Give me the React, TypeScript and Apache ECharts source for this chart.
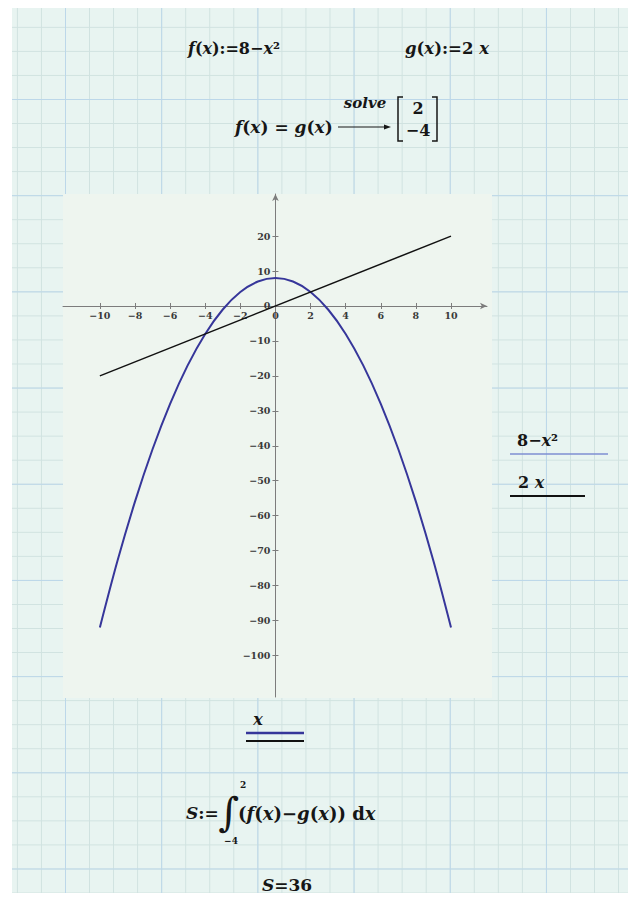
import React, { useEffect, useRef } from "react";
import * as echarts from "echarts";

// ---- data ----
const xValues = [-10, -9, -8, -7, -6, -5, -4, -3, -2, -1, 0, 1, 2, 3, 4, 5, 6, 7, 8, 9, 10];
const fValues = [-92, -73, -56, -41, -28, -17, -8, -1, 4, 7, 8, 7, 4, -1, -8, -17, -28, -41, -56, -73, -92];
const gX = [-10, 10];
const gValues = [-20, 20];
const xTicks = [-10, -8, -6, -4, -2, 0, 2, 4, 6, 8, 10];
const yTicks = [20, 10, 0, -10, -20, -30, -40, -50, -60, -70, -80, -90, -100];
const roots = ["2", "−4"];
const intLimits = ["2", "−4"];
const areaValue = "36";

const X_MIN = -12.1;
const X_MAX = 12.05;
const Y_MIN = -111.9;
const Y_MAX = 32.05;
const GRID = { left: 63, top: 194, width: 424, height: 503 };

const SERIF = "DejaVu Serif";
const INK = "#161616";
const AXIS = "#7c7c7c";
const PARA = "#36369a";

const fmt = (v: number) => (v < 0 ? "−" + Math.abs(v) : String(v));

const rich = (size: number) => ({
  i: { fontFamily: SERIF, fontSize: size, fontWeight: "bold", fontStyle: "italic", fill: INK },
  n: { fontFamily: SERIF, fontSize: size, fontWeight: "bold", fill: INK },
  s: { fontFamily: SERIF, fontSize: 9, fontWeight: "bold", fill: INK },
});

const mathText = (x: number, y: number, text: string, size = 16, align = "left") => ({
  type: "text",
  x,
  y,
  z: 10,
  style: {
    text,
    rich: rich(size),
    fontFamily: SERIF,
    fontSize: size,
    fontWeight: "bold",
    fill: INK,
    textAlign: align,
    textVerticalAlign: "middle",
  },
});

const line = (x1: number, y1: number, x2: number, y2: number, color: string, w: number) => ({
  type: "line",
  z: 10,
  shape: { x1, y1, x2, y2 },
  style: { stroke: color, lineWidth: w },
});

export default function App() {
  const ref = useRef<HTMLDivElement>(null);
  useEffect(() => {
    if (!ref.current) return;
    const chart = echarts.init(ref.current, undefined, { renderer: "svg" });
    // place axes through the origin
    const zeroY = GRID.top + (GRID.height * Y_MAX) / (Y_MAX - Y_MIN);
    const zeroX = GRID.left + (GRID.width * -X_MIN) / (X_MAX - X_MIN);
    const axisLabel = {
      fontFamily: SERIF,
      fontWeight: "bold",
      fontSize: 9.5,
      color: "#3a3a3a",
      formatter: (v: number) => fmt(v),
    };
    const tick = (vals: number[]) => ({
      show: true,
      length: 3,
      lineStyle: { color: AXIS },
      customValues: vals,
    });
    const option: any = {
      animation: false,
      grid: { ...GRID, containLabel: false },
      xAxis: [
        {
          type: "value",
          min: X_MIN,
          max: X_MAX,
          position: "bottom",
          offset: -(GRID.top + GRID.height - zeroY),
          splitLine: { show: false },
          axisLine: {
            onZero: false,
            lineStyle: { color: AXIS, width: 1 },
            symbol: ["none", "arrow"],
            symbolSize: [5, 7],
          },
          axisTick: tick(xTicks),
          axisLabel: { ...axisLabel, margin: 5, customValues: xTicks },
        },
        {
          type: "value",
          min: X_MIN,
          max: X_MAX,
          position: "top",
          offset: -(zeroY - GRID.top),
          splitLine: { show: false },
          axisLine: { show: false, onZero: false },
          axisTick: tick(xTicks),
          axisLabel: { show: false },
        },
      ],
      yAxis: [
        {
          type: "value",
          min: Y_MIN,
          max: Y_MAX,
          position: "left",
          offset: -(zeroX - GRID.left),
          splitLine: { show: false },
          axisLine: {
            onZero: false,
            lineStyle: { color: AXIS, width: 1 },
            symbol: ["none", "arrow"],
            symbolSize: [5, 7],
          },
          axisTick: tick(yTicks),
          axisLabel: { ...axisLabel, margin: 5, customValues: yTicks },
        },
        {
          type: "value",
          min: Y_MIN,
          max: Y_MAX,
          position: "right",
          offset: -(GRID.left + GRID.width - zeroX),
          splitLine: { show: false },
          axisLine: { show: false, onZero: false },
          axisTick: tick(yTicks),
          axisLabel: { show: false },
        },
      ],
      series: [
        {
          type: "line",
          name: "8−x²",
          data: xValues.map((x, i) => [x, fValues[i]]),
          smooth: 0.3,
          showSymbol: false,
          lineStyle: { color: PARA, width: 2 },
          z: 3,
        },
        {
          type: "line",
          name: "2 x",
          data: gX.map((x, i) => [x, gValues[i]]),
          showSymbol: false,
          lineStyle: { color: "#111", width: 1.5 },
          z: 4,
        },
      ],
      graphic: [
        {
          type: "rect",
          z: -10,
          shape: { x: 63, y: 194, width: 429, height: 504 },
          style: { fill: "#eef5ef" },
        },
        mathText(188, 48, "{i|f}{n|(}{i|x}{n|):=8−}{i|x}{n|²}"),
        mathText(405, 48, "{i|g}{n|(}{i|x}{n|):=2 }{i|x}", 16.5),
        mathText(235, 127, "{i|f}{n|(}{i|x}{n|) = }{i|g}{n|(}{i|x}{n|)}", 17),
        mathText(365, 103, "{i|solve}", 15, "center"),
        line(338, 127, 386, 127, INK, 1),
        {
          type: "polygon",
          z: 10,
          shape: { points: [[391, 127], [384, 124.5], [384, 129.5]] },
          style: { fill: INK },
        },
        {
          type: "polyline",
          z: 10,
          shape: { points: [[403, 97], [398, 97], [398, 141], [403, 141]] },
          style: { stroke: INK, lineWidth: 1.5, fill: "none" },
        },
        {
          type: "polyline",
          z: 10,
          shape: { points: [[432, 97], [437, 97], [437, 141], [432, 141]] },
          style: { stroke: INK, lineWidth: 1.5, fill: "none" },
        },
        mathText(418, 108, "{n|" + roots[0] + "}", 16, "center"),
        mathText(418, 130, "{n|" + roots[1] + "}", 16, "center"),
        // legend on the right
        mathText(517, 440, "{n|8−}{i|x}{n|²}"),
        line(510, 454, 608, 454, "#7f8fd2", 1.5),
        mathText(518, 482, "{n|2 }{i|x}"),
        line(510, 496, 585, 496, "#111", 2),
        // x-axis variable under the plot
        mathText(258, 719, "{i|x}", 16, "center"),
        line(246, 733, 304, 733, PARA, 2.5),
        line(246, 741, 304, 741, "#111", 2),
        // integral
        mathText(186, 813, "{i|S}{n|:=}", 17),
        {
          type: "text",
          x: 229,
          y: 812,
          z: 10,
          style: {
            text: "∫",
            fontFamily: SERIF,
            fontSize: 40,
            fill: INK,
            textAlign: "center",
            textVerticalAlign: "middle",
          },
        },
        mathText(243, 785, "{s|" + intLimits[0] + "}", 9, "center"),
        mathText(231, 841, "{s|" + intLimits[1] + "}", 9, "center"),
        mathText(238, 813, "{n|(}{i|f}{n|(}{i|x}{n|)−}{i|g}{n|(}{i|x}{n|)) d}{i|x}", 18),
        mathText(262, 885, "{i|S}{n|=" + areaValue + "}", 17),
      ],
    };
    chart.setOption(option);
    return () => chart.dispose();
  }, []);

  return (
    <div style={{ position: "absolute", left: 0, top: 0, width: 633, height: 897, background: "#fff" }}>
      <div
        style={{
          position: "absolute",
          left: 12,
          top: 8,
          width: 616,
          height: 885,
          backgroundColor: "#e8f4f1",
          backgroundImage:
            "linear-gradient(to right, #bcd7e9 1px, transparent 1px), linear-gradient(to bottom, #bcd7e9 1px, transparent 1px), linear-gradient(to right, #d0e2e0 1px, transparent 1px), linear-gradient(to bottom, #d0e2e0 1px, transparent 1px)",
          backgroundSize: "96.2px 100%, 100% 96.2px, 24.05px 100%, 100% 24.05px",
          backgroundPosition: "53px 0, 0 91px, 4.9px 0, 0 18.85px",
        }}
      />
      <div ref={ref} style={{ position: "absolute", left: 0, top: 0, width: 633, height: 897 }} />
    </div>
  );
}
